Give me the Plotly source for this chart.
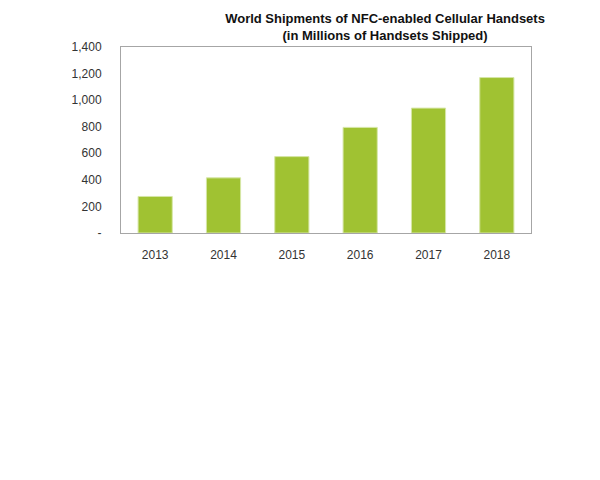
import plotly.graph_objects as go

years = ['2013', '2014', '2015', '2016', '2017', '2018']
shipments = [275, 415, 575, 795, 940, 1170]

y_tickvals = [0, 200, 400, 600, 800, 1000, 1200, 1400]
y_ticktext = ['-', '200', '400', '600', '800', '1,000', '1,200', '1,400']

fig = go.Figure()
fig.add_trace(go.Bar(x=years, y=shipments,
                     marker=dict(color='#A0C232',
                                 line=dict(color='#D6E6A6', width=1))))

# page body has an 8px margin, so the figure is shifted by that amount
fig.update_layout(
    width=592, height=472,
    margin=dict(l=113, r=69, t=39, b=247),
    paper_bgcolor='white', plot_bgcolor='white',
    font=dict(family='Liberation Sans, Arial, sans-serif', size=12, color='#222'),
    bargap=0.5,
    showlegend=False,
    title=dict(text='<b>World Shipments of NFC-enabled Cellular Handsets<br>'
                    '(in Millions of Handsets Shipped)</b>',
               x=0.644, xref='paper', xanchor='center',
               y=1 - 15 / 472, yref='container', yanchor='middle',
               font=dict(size=13, color='#111')),
)

fig.update_xaxes(showline=True, linecolor='#A6A6A6', linewidth=1, mirror=True,
                 showgrid=False, ticks='', ticklabelstandoff=11,
                 tickfont=dict(size=12, color='#333'))
fig.update_yaxes(range=[0, 1400], tickvals=y_tickvals, ticktext=y_ticktext,
                 showline=True, linecolor='#A6A6A6', linewidth=1, mirror=True,
                 showgrid=False, zeroline=False, ticks='', ticklabelstandoff=16,
                 tickfont=dict(size=12, color='#333'))

fig.write_html("out.html")
